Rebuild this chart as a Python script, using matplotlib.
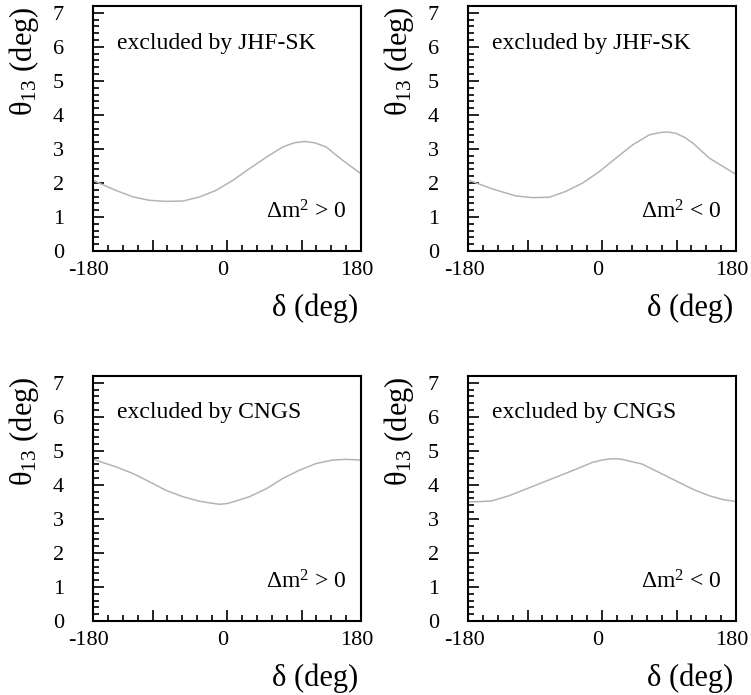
import matplotlib
matplotlib.use('Agg')
import matplotlib.pyplot as plt
import matplotlib.transforms as mtransforms
from matplotlib.ticker import FixedLocator, MultipleLocator

plt.rcParams['font.family'] = ['Liberation Serif', 'DejaVu Serif']
plt.rcParams['mathtext.fontset'] = 'custom'
plt.rcParams['mathtext.rm'] = 'Liberation Serif'
plt.rcParams['mathtext.it'] = 'Liberation Serif'

# curves: delta (deg) -> theta13 (deg)
jhf_pos_delta = [-180, -165, -149, -126, -104, -82, -59, -37, -15, 8, 30, 53, 75, 90, 104, 118, 133, 155, 180]
jhf_pos_theta = [2.08, 1.93, 1.78, 1.59, 1.49, 1.46, 1.47, 1.59, 1.78, 2.08, 2.42, 2.76, 3.06, 3.18, 3.22, 3.18, 3.06, 2.67, 2.27]

jhf_neg_delta = [-180, -148, -116, -94, -71, -49, -26, -4, 18, 41, 63, 77, 88, 99, 111, 122, 144, 180]
jhf_neg_theta = [2.09, 1.83, 1.62, 1.57, 1.58, 1.75, 2.0, 2.33, 2.72, 3.12, 3.41, 3.48, 3.5, 3.46, 3.34, 3.17, 2.73, 2.25]

cngs_pos_delta = [-180, -149, -126, -104, -82, -59, -37, -20, -10, 0, 8, 30, 53, 75, 97, 120, 142, 160, 180]
cngs_pos_theta = [4.75, 4.53, 4.33, 4.09, 3.84, 3.65, 3.52, 3.46, 3.43, 3.45, 3.5, 3.65, 3.89, 4.19, 4.43, 4.63, 4.73, 4.75, 4.73]

cngs_neg_delta = [-180, -162, -148, -125, -103, -80, -58, -35, -13, 0, 9, 18, 27, 54, 77, 99, 122, 144, 162, 180]
cngs_neg_theta = [3.5, 3.51, 3.53, 3.68, 3.87, 4.07, 4.26, 4.46, 4.66, 4.73, 4.76, 4.77, 4.75, 4.61, 4.36, 4.12, 3.87, 3.68, 3.57, 3.51]

panels = [
    (jhf_pos_delta, jhf_pos_theta, 'excluded by JHF-SK', 'Δm$^2$ > 0'),
    (jhf_neg_delta, jhf_neg_theta, 'excluded by JHF-SK', 'Δm$^2$ < 0'),
    (cngs_pos_delta, cngs_pos_theta, 'excluded by CNGS', 'Δm$^2$ > 0'),
    (cngs_neg_delta, cngs_neg_theta, 'excluded by CNGS', 'Δm$^2$ < 0'),
]

x_ticks = [-180, -100, 0, 100, 180]
x_labels = ['-180', '', '0', '', '180']

fig = plt.figure(figsize=(7.51, 6.95), dpi=100)
lefts = [0.1238, 0.6232]
bottoms = [0.6388, 0.1065]
shift = mtransforms.ScaledTranslation(-4 / 100, 0, fig.dpi_scale_trans)

for i, (xd, yd, title, dm) in enumerate(panels):
    ax = fig.add_axes([lefts[i % 2], bottoms[i // 2], 0.357, 0.3525])
    ax.plot(xd, yd, color='#b4b4b4', lw=1.1)
    ax.set_xlim(-180, 180)
    ax.set_ylim(0, 7.2)

    ax.xaxis.set_major_locator(FixedLocator(x_ticks))
    ax.set_xticklabels(x_labels)
    ax.xaxis.set_minor_locator(MultipleLocator(20))
    ax.yaxis.set_major_locator(MultipleLocator(1))
    ax.yaxis.set_minor_locator(MultipleLocator(0.2))
    ax.tick_params(which='both', direction='in', width=1.2, labelsize=16,
                   top=False, right=False)
    ax.tick_params(which='major', length=8)
    ax.tick_params(which='minor', length=4)
    ax.tick_params(axis='y', pad=21)
    ax.tick_params(axis='x', pad=7)
    for lab in ax.get_xticklabels():
        lab.set_transform(lab.get_transform() + shift)
    for s in ax.spines.values():
        s.set_linewidth(1.5)

    ax.text(0.089, 0.849, title, transform=ax.transAxes, fontsize=17,
            ha='left', va='center')
    ax.text(0.945, 0.159, dm, transform=ax.transAxes, fontsize=17,
            ha='right', va='center')

    ax.text(0.99, -0.235, 'δ (deg)', transform=ax.transAxes,
            fontsize=22, ha='right', va='center')
    ax.text(-0.258, 1.0, 'θ$_{13}$ (deg)', transform=ax.transAxes,
            fontsize=22, ha='center', va='top', rotation=90)

fig.savefig('out.png', dpi=100)
